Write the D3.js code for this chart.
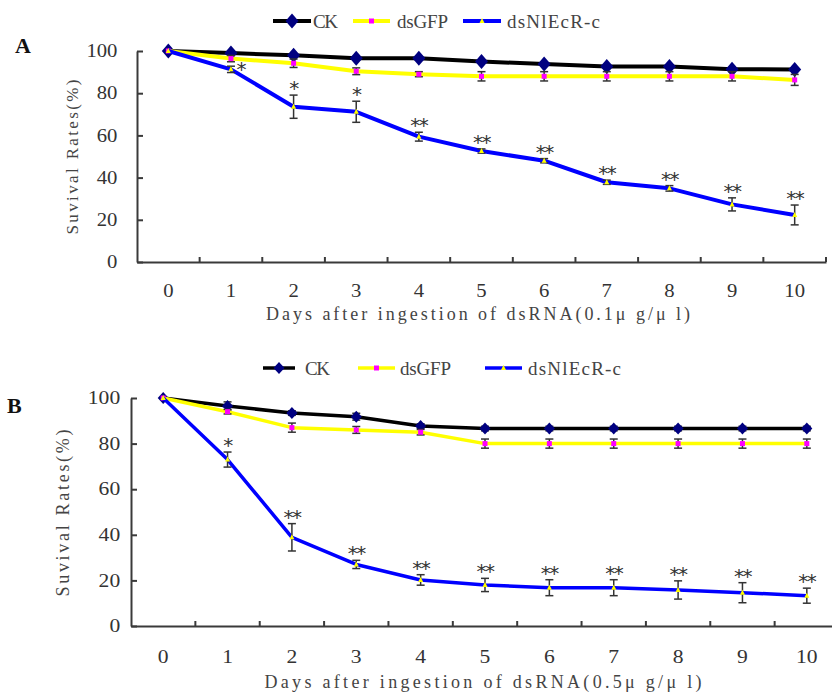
<!DOCTYPE html>
<html><head><meta charset="utf-8">
<script src="https://cdn.jsdelivr.net/npm/d3@7/dist/d3.min.js"></script>
<style>body{margin:0;background:#fff} svg{display:block}</style>
</head><body><svg id="c" width="832" height="696"></svg>
<script>
const days = [0,1,2,3,4,5,6,7,8,9,10];
const seriesNames = ["CK","dsGFP","dsNlEcR-c"];
const yTicks = [0,20,40,60,80,100];

// Panel A (0.1 μg/μl)
const ckA     = [100,99,98,96.6,96.6,95,93.8,92.6,92.6,91.4,91.2];
const ckErrA  = [0,0.8,0.8,0.8,0.8,0.8,0.8,0.8,0.8,0.8,0.8];
const gfpA    = [100,96.4,94.2,90.4,89,88,88,88,88,88,86.3];
const gfpErrA = [0,1.5,2,1.6,1.2,2.2,2.2,2.2,2.2,2.2,2.6];
const ecrA    = [100,91.3,73.6,71.2,59.4,52.6,48,37.8,34.9,27.3,22.3];
const ecrErrA = [0,1.5,5.5,5,2.1,1,1,1,1.3,3.1,4.7];
const sigA    = ["","*","*","*","**","**","**","**","**","**","**"];

// Panel B (0.5 μg/μl)
const ckB     = [100,96.5,93.4,91.8,87.7,86.6,86.6,86.6,86.6,86.6,86.6];
const ckErrB  = [0,1.8,1,1.5,1,1,1,1,1,1,1];
const gfpB    = [100,94,87,86,85,80,80,80,80,80,80];
const gfpErrB = [0,1,2,1.5,1.2,2,2,2,2,2,2];
const ecrB    = [100,73,38.9,27,20.2,18,16.8,16.8,15.8,14.6,13.3];
const ecrErrB = [0,3.3,6,1.8,2.3,2.9,3.5,3.5,4,4.4,3.3];
const sigB    = ["","*","**","**","**","**","**","**","**","**","**"];

const titleA = "Days after ingestion of dsRNA(0.1μ g/μ l)";
const titleB = "Days after ingestion of dsRNA(0.5μ g/μ l)";
const yTitle = "Suvival Rates(%)";

const svg = d3.select("#c");
const TXT = "'Liberation Serif', serif";
const SERIF = "'Liberation Serif', serif";
const STAR = "'DejaVu Sans', sans-serif";
const AX = "#3a3a3a";

const styles = [
  {line:"#000000", marker:"diamond", fill:"#000080"},
  {line:"#ffff00", marker:"square", fill:"#ff00ff"},
  {line:"#0000ff", marker:"triangle", fill:"#ffff00"}
];

function marker(g, type, cx, cy, cfg, fill){
  if(type==="diamond"){
    const [hw,hh]=cfg.dia;
    g.append("path").attr("d",`M${cx},${cy-hh}L${cx+hw},${cy}L${cx},${cy+hh}L${cx-hw},${cy}Z`).attr("fill",fill);
  } else if(type==="square"){
    g.append("rect").attr("x",cx-2.5).attr("y",cy-2.5).attr("width",5).attr("height",5).attr("fill",fill);
  } else {
    g.append("path").attr("d",`M${cx},${cy-3}L${cx+2.5},${cy+2}L${cx-2.5},${cy+2}Z`).attr("fill",fill);
  }
}

// spaced text imitating a half-width CJK font
function spaced(sel, str, width){
  sel.attr("textLength", width).attr("lengthAdjust","spacing").text(str);
}

function panel(cfg){
  const g = svg.append("g");
  const x = d3.scaleBand().domain(days).range([cfg.x0,cfg.x1]).padding(0);
  const y = d3.scaleLinear().domain([0,100]).range([cfg.yBottom,cfg.yTop]);
  const cx = d => x(d)+x.bandwidth()/2;

  // axes
  const ya = g.append("g").attr("transform",`translate(${cfg.x0},0)`)
    .call(d3.axisLeft(y).tickValues(yTicks).tickSizeInner(-6).tickSizeOuter(0).tickPadding(cfg.tickPad));
  ya.select(".domain").attr("stroke",AX).attr("stroke-width",2);
  ya.selectAll(".tick line").attr("stroke",AX).attr("stroke-width",2);
  ya.selectAll(".tick text").attr("font-family",SERIF).attr("font-size",cfg.tickFont).attr("fill","#333")
    .attr("transform",`scale(${cfg.sx},1)`);

  const xa = g.append("g").attr("transform",`translate(0,${cfg.yBottom})`)
    .call(d3.axisBottom(x).tickSize(0).tickPadding(cfg.xPad));
  xa.select(".domain").attr("stroke",AX).attr("stroke-width",2);
  xa.selectAll(".tick text").attr("font-family",SERIF).attr("font-size",cfg.tickFont).attr("fill","#333")
    .attr("transform",`scale(${cfg.sx},1)`);
  g.selectAll(".xt").data(days).join("line")
    .attr("x1",d=>x(d)+x.bandwidth()).attr("x2",d=>x(d)+x.bandwidth())
    .attr("y1",cfg.yBottom).attr("y2",cfg.yBottom-5).attr("stroke",AX).attr("stroke-width",2);

  // series
  cfg.series.forEach((s,si)=>{
    const st = styles[si];
    const pts = days.map((d,i)=>({d, v:s.v[i], e:s.e[i]}));
    g.append("path").datum(pts)
      .attr("d",d3.line().x(p=>cx(p.d)).y(p=>y(p.v)))
      .attr("fill","none").attr("stroke",st.line).attr("stroke-width",cfg.lw).attr("stroke-linejoin","round");
    const eb = g.append("g").attr("stroke","#333").attr("stroke-width",1.5);
    pts.filter(p=>p.e>0).forEach(p=>{
      const X=cx(p.d), t=y(p.v+p.e), b=y(p.v-p.e);
      eb.append("line").attr("x1",X).attr("x2",X).attr("y1",t).attr("y2",b);
      eb.append("line").attr("x1",X-4).attr("x2",X+4).attr("y1",t).attr("y2",t);
      eb.append("line").attr("x1",X-4).attr("x2",X+4).attr("y1",b).attr("y2",b);
    });
    pts.forEach(p=>marker(g, st.marker, cx(p.d), y(p.v), cfg, st.fill));
  });

  // significance stars (above dsNlEcR-c)
  const ec = cfg.series[2];
  days.forEach((d,i)=>{
    if(!cfg.sig[i]) return;
    let X = cx(d), Y = y(ec.v[i]+ec.e[i]), anchor="middle";
    if(i===cfg.besideStar){ X = cx(d)+5.5; Y = y(ec.v[i]) + 7; anchor="start"; }
    g.append("text").attr("x",X).attr("y",Y).attr("text-anchor",anchor)
      .attr("font-family",STAR).attr("font-size",20).attr("letter-spacing",-1.5)
      .attr("fill","#333").text(cfg.sig[i]);
  });

  // titles
  spaced(g.append("text").attr("x",cfg.titleX).attr("y",cfg.titleY).attr("text-anchor","middle")
    .attr("font-family",TXT).attr("font-size",18).attr("fill","#444"), cfg.title, cfg.titleW);
  spaced(g.append("text").attr("transform",`translate(${cfg.yTitleX},${cfg.yTitleY}) rotate(-90)`)
    .attr("text-anchor","middle").attr("dominant-baseline","central")
    .attr("font-family",TXT).attr("font-size",cfg.yTitleSize).attr("fill","#444"), yTitle, cfg.yTitleW);
  g.append("text").attr("x",cfg.labelX).attr("y",cfg.labelY)
    .attr("font-family","'Liberation Serif', serif").attr("font-weight","bold").attr("font-size",22)
    .attr("fill","#111").text(cfg.label);

  // legend
  const legW = [25, 51, 93];
  cfg.legend.forEach((L,si)=>{
    const st = styles[si];
    g.append("line").attr("x1",L[0]).attr("x2",L[1]).attr("y1",cfg.legendY).attr("y2",cfg.legendY)
      .attr("stroke",st.line).attr("stroke-width",cfg.lw);
    marker(g, st.marker, (L[0]+L[1])/2, cfg.legendY, cfg, st.fill);
    spaced(g.append("text").attr("x",L[2]).attr("y",cfg.legendY+7)
      .attr("font-family",TXT).attr("font-size",19).attr("fill","#444"), seriesNames[si], legW[si]);
  });
}

panel({label:"A", labelX:15, labelY:53, x0:137, x1:826, yBottom:262, yTop:51,
  tickFont:18, sx:1.15, tickPad:17, xPad:22, title:titleA, titleX:478, titleY:320, titleW:424,
  yTitleX:72, yTitleY:157, yTitleSize:17, yTitleW:155, legendY:21,
  legend:[[273,311,313],[353,390,397],[463,501,507]], lw:4, dia:[6.5,7.5], besideStar:1,
  sig:sigA,
  series:[{v:ckA,e:ckErrA},{v:gfpA,e:gfpErrA},{v:ecrA,e:ecrErrA}]});

panel({label:"B", labelX:7, labelY:413, x0:131, x1:839, yBottom:626, yTop:398,
  tickFont:18, sx:1.2, tickPad:9, xPad:24, title:titleB, titleX:483, titleY:688, titleW:437,
  yTitleX:63, yTitleY:513, yTitleSize:18, yTitleW:167, legendY:368,
  legend:[[263,295,305],[358,395,400],[485,522,528]], lw:3.5, dia:[5.5,6], besideStar:-1,
  sig:sigB,
  series:[{v:ckB,e:ckErrB},{v:gfpB,e:gfpErrB},{v:ecrB,e:ecrErrB}]});
</script></body></html>
